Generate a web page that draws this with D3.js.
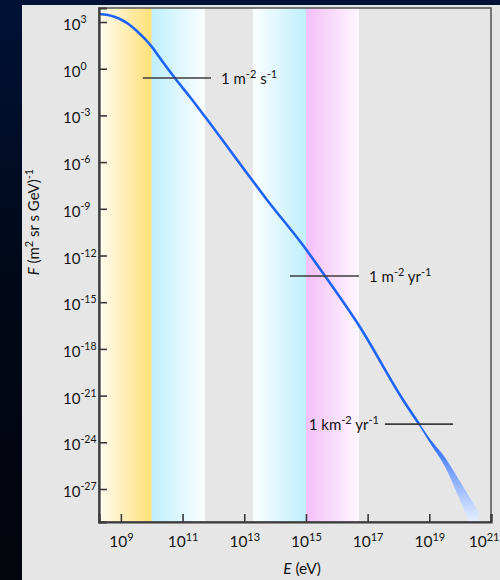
<!DOCTYPE html>
<html>
<head>
<meta charset="utf-8">
<script src="https://cdn.jsdelivr.net/npm/d3@7"></script>
<style>
  html, body { margin: 0; padding: 0; background: #000; }
  svg { display: block; }
  text { font-family: Lato, "Open Sans", "DejaVu Sans", sans-serif; fill: #141414; }
</style>
</head>
<body>
<svg id="chart" width="500" height="580"></svg>
<script>
// Cosmic-ray energy spectrum. Values are log10 exponents:
// energy E in eV, differential flux F in (m^2 sr s GeV)^-1.
const energyExp = [8.29, 8.58, 8.81, 9.03, 9.29, 9.55, 9.78, 10.01, 10.36, 10.75,
                   11.24, 11.76, 13.18, 13.74, 14.90, 15.62, 16.75, 18.15, 18.67];
const fluxExp   = [3.51, 3.45, 3.32, 3.13, 2.81, 2.36, 1.91, 1.39, 0.43, -0.60,
                   -1.82, -3.17, -6.96, -8.43, -11.33, -13.32, -16.59, -21.28, -22.83];

// Highest-energy end, where the measurement spreads into a band
const tailEnergyExp = [18.67, 19.0, 19.51, 20.0, 20.6];
const tailFluxExp   = [-22.83, -23.85, -25.27, -27.13, -29.5];
const tailSpreadExp = [0.09, 0.13, 0.3, 0.6, 1.0];

// Integral-rate markers: flux level, energy span and label pieces
const markerFluxExp = [-0.60, -13.32, -22.83];
const markerFromExp = [9.71, 14.48, 17.56];
const markerToExp   = [11.92, 16.72, 19.77];
const markerLabels  = [
  [["1 m", 0], ["-2", 1], [" s", 0], ["-1", 1]],
  [["1 m", 0], ["-2", 1], [" yr", 0], ["-1", 1]],
  [["1 km", 0], ["-2", 1], [" yr", 0], ["-1", 1]]
];

// Shaded energy ranges
const bandFromExp = [8.29, 10.0, 13.28, 15.0];
const bandToExp   = [10.0, 11.72, 15.0, 16.72];

// Axis ticks (exponents)
const xTickExp = [9, 11, 13, 15, 17, 19, 21];
const yTickExp = [3, 0, -3, -6, -9, -12, -15, -18, -21, -24, -27];

// ---- drawing ----
const svg = d3.select("#chart");
const W = 500, H = 580;
const plot = { left: 99, right: 491, top: 8, bottom: 522 };

const x = d3.scaleLog().domain([10 ** 8.29, 1e21]).range([plot.left, plot.right]);
const y = d3.scaleLog().domain([10 ** 3.9, 10 ** -29.12]).range([plot.top, plot.bottom]);

const defs = svg.append("defs");

// page background
const bg = defs.append("linearGradient").attr("id", "pageBg")
  .attr("x1", 0).attr("y1", 0).attr("x2", 0).attr("y2", 1);
bg.append("stop").attr("offset", 0).attr("stop-color", "#001236");
bg.append("stop").attr("offset", 0.5).attr("stop-color", "#020818");
bg.append("stop").attr("offset", 1).attr("stop-color", "#04050c");
svg.append("rect").attr("width", W).attr("height", H).attr("fill", "url(#pageBg)");

// light panel
svg.append("rect").attr("x", 22).attr("y", 5).attr("width", W - 22).attr("height", H - 5)
  .attr("fill", "#e6e6e6");

// band gradients (left colour, right colour)
const bandColours = [
  ["#fffcf2", "#ffe077"],
  ["#bfeffb", "#fbfeff"],
  ["#fbfeff", "#bfeffb"],
  ["#f2bff7", "#fff7ff"]
];
bandColours.forEach((c, i) => {
  const g = defs.append("linearGradient").attr("id", "band" + i)
    .attr("x1", 0).attr("y1", 0).attr("x2", 1).attr("y2", 0);
  g.append("stop").attr("offset", 0).attr("stop-color", c[0]);
  g.append("stop").attr("offset", 1).attr("stop-color", c[1]);
});

svg.append("g").selectAll("rect")
  .data(bandFromExp.map((f, i) => ({ from: 10 ** f, to: 10 ** bandToExp[i], i })))
  .join("rect")
  .attr("x", d => x(d.from))
  .attr("width", d => x(d.to) - x(d.from))
  .attr("y", plot.top)
  .attr("height", plot.bottom - plot.top)
  .attr("fill", d => `url(#band${d.i})`);

// clip to the plotting area
defs.append("clipPath").attr("id", "plotClip")
  .append("rect").attr("x", plot.left).attr("y", plot.top)
  .attr("width", plot.right - plot.left).attr("height", plot.bottom - plot.top);

const inner = svg.append("g").attr("clip-path", "url(#plotClip)");

// tail band gradient, running down the page
const tg = defs.append("linearGradient").attr("id", "tailFill")
  .attr("gradientUnits", "userSpaceOnUse")
  .attr("x1", 0).attr("x2", 0)
  .attr("y1", y(10 ** tailFluxExp[0])).attr("y2", plot.bottom);
tg.append("stop").attr("offset", 0).attr("stop-color", "#1e64fa");
tg.append("stop").attr("offset", 0.2).attr("stop-color", "#2a6cfb");
tg.append("stop").attr("offset", 0.45).attr("stop-color", "#6f9bff");
tg.append("stop").attr("offset", 1).attr("stop-color", "#e9f1ff");

const tail = tailEnergyExp.map((e, i) => ({
  e: 10 ** e,
  hi: 10 ** (tailFluxExp[i] + tailSpreadExp[i]),
  lo: 10 ** (tailFluxExp[i] - tailSpreadExp[i])
}));
inner.append("path")
  .datum(tail)
  .attr("fill", "url(#tailFill)")
  .attr("d", d3.area().curve(d3.curveMonotoneX)
    .x(d => x(d.e)).y0(d => y(d.lo)).y1(d => y(d.hi)));

// main spectrum line
const spectrum = energyExp.map((e, i) => ({ e: 10 ** e, f: 10 ** fluxExp[i] }));
inner.append("path")
  .datum(spectrum)
  .attr("fill", "none")
  .attr("stroke", "#1e64fa")
  .attr("stroke-width", 2.6)
  .attr("stroke-linecap", "round")
  .attr("d", d3.line().curve(d3.curveMonotoneX).x(d => x(d.e)).y(d => y(d.f)));

// frame
svg.append("rect")
  .attr("x", plot.left).attr("y", plot.top)
  .attr("width", plot.right - plot.left).attr("height", plot.bottom - plot.top)
  .attr("fill", "none").attr("stroke", "#5c5c5c").attr("stroke-width", 1.6);

// helper: write "10" with a raised exponent
function powerLabel(sel, exp, supDy, supSize) {
  sel.text(null);
  sel.append("tspan").text("10");
  sel.append("tspan").attr("dy", supDy).attr("font-size", supSize).text(exp);
}

// x axis
const xAxis = svg.append("g")
  .attr("transform", `translate(0,${plot.bottom})`)
  .call(d3.axisBottom(x).tickValues(xTickExp.map(e => 10 ** e))
    .tickSize(-8).tickFormat(() => ""));
xAxis.select(".domain").attr("stroke", "#3a3a3a").attr("stroke-width", 2.2);
xAxis.selectAll(".tick line").attr("stroke", "#3a3a3a").attr("stroke-width", 1.6);
xAxis.selectAll(".tick text").remove();
xAxis.selectAll(".tick").each(function (d, i) {
  const t = d3.select(this).append("text")
    .attr("y", 25).attr("text-anchor", "middle")
    .attr("font-size", 15.5);
  powerLabel(t, String(xTickExp[i]), -6.5, 11);
  // keep the last label inside the page edge
  const tx = x(10 ** xTickExp[i]);
  const half = t.node().getComputedTextLength() / 2;
  if (tx + half > W - 1) t.attr("x", W - 1 - half - tx);
});

// y axis
const yAxis = svg.append("g")
  .attr("transform", `translate(${plot.left},0)`)
  .call(d3.axisLeft(y).tickValues(yTickExp.map(e => 10 ** e))
    .tickSize(-8).tickFormat(() => ""));
yAxis.select(".domain").attr("stroke", "#3a3a3a").attr("stroke-width", 2.2);
yAxis.selectAll(".tick line").attr("stroke", "#3a3a3a").attr("stroke-width", 1.6);
yAxis.selectAll(".tick text").remove();
yAxis.selectAll(".tick").each(function (d, i) {
  const t = d3.select(this).append("text")
    .attr("x", -36).attr("y", 7.5).attr("text-anchor", "start")
    .attr("font-size", 15);
  powerLabel(t, String(yTickExp[i]), -7, 10.5);
});

// integral-rate markers
const markerSide = ["right", "right", "left"];
markerFluxExp.forEach((fe, i) => {
  const yy = y(10 ** fe);
  const x0 = x(10 ** markerFromExp[i]), x1 = x(10 ** markerToExp[i]);
  svg.append("line")
    .attr("x1", x0).attr("x2", x1).attr("y1", yy).attr("y2", yy)
    .attr("stroke", "#3c3c3c").attr("stroke-width", 1.6);
  const right = markerSide[i] === "right";
  const t = svg.append("text")
    .attr("x", right ? x1 + 10 : x0 - 6)
    .attr("y", yy + 5.5)
    .attr("text-anchor", right ? "start" : "end")
    .attr("font-size", 15);
  let raised = false;
  markerLabels[i].forEach(([s, sup]) => {
    const ts = t.append("tspan").text(s);
    if (sup && !raised) { ts.attr("dy", -6).attr("font-size", 11); raised = true; }
    else if (!sup && raised) { ts.attr("dy", 6); raised = false; }
    else if (sup) { ts.attr("font-size", 11); }
  });
});

// axis titles
const xt = svg.append("text")
  .attr("x", 302).attr("y", 574).attr("text-anchor", "middle").attr("font-size", 15.5);
xt.append("tspan").attr("font-style", "italic").text("E");
xt.append("tspan").text(" (eV)");

const yt = svg.append("text")
  .attr("transform", "translate(39,222) rotate(-90)")
  .attr("text-anchor", "middle").attr("font-size", 15);
yt.append("tspan").attr("font-style", "italic").text("F");
yt.append("tspan").text(" (m");
yt.append("tspan").attr("dy", -6).attr("font-size", 11).text("2");
yt.append("tspan").attr("dy", 6).text(" sr s GeV)");
yt.append("tspan").attr("dy", -6).attr("font-size", 11).text("-1");
</script>
</body>
</html>
